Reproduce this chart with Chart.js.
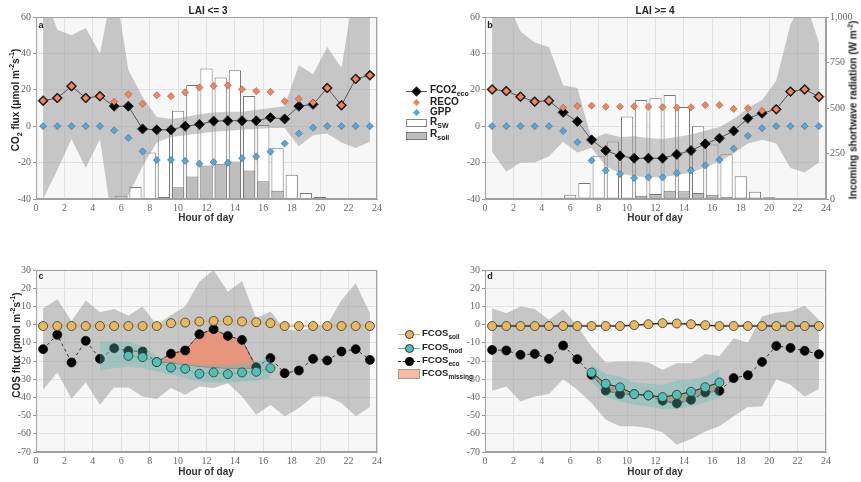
<!DOCTYPE html>
<html>
<head>
<meta charset="utf-8">
<script src="https://cdn.jsdelivr.net/npm/chart.js@4.4.1/dist/chart.umd.min.js"></script>
<style>
  body { margin: 0; background: #fff; font-family: "Liberation Sans", Arial, sans-serif; }
  #page { position: relative; width: 861px; height: 482px; overflow: hidden; }
  canvas { position: absolute; }
  .c { position: absolute; transform: translate(-50%, -50%); font-weight: bold; color: #222; white-space: nowrap; font-size: 10px; }
  .rot { transform: translate(-50%, -50%) rotate(-90deg); }
  .lt { position: absolute; transform: translateY(-50%); font-weight: bold; color: #222; white-space: nowrap; font-size: 10px; line-height: 10px; }
  .lc { font-size: 9.5px; }
  .lc sub { font-size: 6.5px; }
  sub, sup { font-size: 7px; line-height: 0; }
  .m { position: absolute; box-sizing: border-box; }
</style>
</head>
<body>
<div id="page">
  <canvas id="cA" width="390" height="230" style="left:0;top:0"></canvas>
  <canvas id="cB" width="412" height="230" style="left:449px;top:0"></canvas>
  <canvas id="cC" width="390" height="230" style="left:0;top:253px"></canvas>
  <canvas id="cD" width="412" height="230" style="left:449px;top:253px"></canvas>

  <div class="c" style="left:208px;top:10px">LAI &lt;= 3</div>
  <div class="c" style="left:655px;top:10px">LAI &gt;= 4</div>
  <div class="c" style="left:41px;top:25px;font-size:9px">a</div>
  <div class="c" style="left:490px;top:25px;font-size:9px">b</div>
  <div class="c" style="left:41px;top:276px;font-size:9px">c</div>
  <div class="c" style="left:490px;top:276px;font-size:9px">d</div>
  <div class="c" style="left:206px;top:217px;color:#333">Hour of day</div>
  <div class="c" style="left:655px;top:217px;color:#333">Hour of day</div>
  <div class="c" style="left:206px;top:471px;color:#333">Hour of day</div>
  <div class="c" style="left:655px;top:471px;color:#333">Hour of day</div>
  <div class="c rot" style="left:15px;top:100px">CO<sub>2</sub> flux (&mu;mol m<sup>-2</sup>s<sup>-1</sup>)</div>
  <div class="c rot" style="left:16px;top:345px">COS flux (pmol m<sup>-2</sup>s<sup>-1</sup>)</div>
  <div class="c rot" style="left:853px;top:110px">Incoming shortwave radiation (W m<sup>-2</sup>)</div>

  <div class="lt" style="left:430px;top:90px">FCO2<sub>eco</sub></div>
  <div class="lt" style="left:430px;top:102px">RECO</div>
  <div class="lt" style="left:430px;top:112px">GPP</div>
  <div class="lt" style="left:430px;top:122px">R<sub>SW</sub></div>
  <div class="lt" style="left:430px;top:134px">R<sub>soil</sub></div>

  <div class="lt lc" style="left:422px;top:333px">FCOS<sub>soil</sub></div>
  <div class="lt lc" style="left:422px;top:347px">FCOS<sub>mod</sub></div>
  <div class="lt lc" style="left:422px;top:360px">FCOS<sub>eco</sub></div>
  <div class="lt lc" style="left:422px;top:373px">FCOS<sub>missing</sub></div>
</div>
<script>
// hours of day (half-hour centred) and radiation bar hours
const hours = [0.5, 1.5, 2.5, 3.5, 4.5, 5.5, 6.5, 7.5, 8.5, 9.5, 10.5, 11.5, 12.5, 13.5, 14.5, 15.5, 16.5, 17.5, 18.5, 19.5, 20.5, 21.5, 22.5, 23.5];
const barHours = [4, 5, 6, 7, 8, 9, 10, 11, 12, 13, 14, 15, 16, 17, 18, 19, 20, 21];

// panel a — LAI <= 3
const fco2A = [14, 15.5, 22, 15.5, 16.5, 11, 11, -1.5, -2, -2, 0, 1, 2.8, 3, 3, 3, 4.7, 4, 11, 12, 21, 11.5, 26, 28];
const recoA = [14, 15.5, 22, 15.5, 16.5, 13.5, 17.5, 12.3, 17, 16.5, 18.6, 21.3, 22.2, 22.5, 20.3, 19.3, 18.9, 13.7, 15, 13, 21, 11.5, 26, 28];
const gppA = [0, 0, 0, 0, 0, -2.3, -6.4, -13.8, -18.6, -18.5, -19.1, -20.6, -19.7, -20.1, -17.6, -16.6, -14, -9.5, -4, -0.8, 0, 0, 0, 0];
const bandHiA = [75, 53, 50, 54, 40, 80, 31, 16, 5, 4, 5, 6.5, 7.5, 8, 8, 9, 10, 11, 33.5, 28.5, 43.5, 32, 80, 75];
const bandLoA = [-40, -24, -7, -23, -7, -60, -38, -22, -9, -6, -5, -4, -3, -2.5, -2, -1.5, -1, -1, -11, -5, -4, -9, -12, -8.5];
const rswA = [2, 0, 18, 66, 255, 383, 485, 626, 717, 668, 708, 566, 407, 279, 133, 33, 11, 2];
const rsoilA = [0, 0, 0, 0, 2, 11, 64, 124, 184, 193, 206, 157, 97, 46, 7, 2, 0, 0];

// panel b — LAI >= 4
const fco2B = [20.2, 19.3, 16.2, 13.5, 14, 7.6, 2.6, -7.5, -13.4, -16.3, -17.6, -17.6, -17.6, -15.5, -13.4, -9.7, -6.6, -2.6, 4.3, 7.1, 9.3, 19, 20.2, 16.2];
const recoB = [20.2, 19.3, 16.2, 13.5, 14, 10.2, 11.1, 11.3, 10.7, 10.7, 10.9, 10.7, 10.4, 10.2, 10.4, 11.6, 11.6, 9.5, 9.9, 8.4, 9.3, 19, 20.2, 16.2];
const gppB = [0, 0, 0, 0, 0, -2.6, -8.8, -18.8, -24.3, -26.3, -28.5, -28.1, -28.1, -25.8, -24.3, -21.6, -18.5, -12.3, -5.3, -1.1, 0, 0, 0, 0];
const bandHiB = [60, 70, 52, 46, 43.5, 22.5, 21, -7, -4, -6, -5.5, -6.5, -7, -6, -4.5, -2.5, -0.5, 4, 9.8, 14.4, 25, 56, 70, 46];
const bandLoB = [-14, -25, -20, -20, -16.5, -8.5, -14.5, -12, -22, -26, -27.5, -28, -28, -27, -25.5, -22.5, -19.5, -15, -9.5, -7.5, -9.5, -23, -25.5, -20];
const rswB = [2, 0, 24, 88, 237, 316, 453, 544, 553, 571, 505, 400, 300, 246, 125, 40, 10, 2];
const rsoilB = [0, 0, 0, 0, 0, 2, 5, 18, 27, 46, 42, 33, 24, 9, 0, 0, 0, 0];

// panel c — COS, LAI <= 3
const soilC = [-0.8, -0.8, -0.8, -0.8, -0.8, -0.8, -0.8, -0.8, -0.8, 0.8, 1.1, 1.7, 2, 2.2, 1.7, 1.3, 0.8, -0.8, -0.8, -0.8, -0.8, -0.8, -0.8, -0.8];
const ecoC = [-13.5, -5.6, -20.8, -8.9, -18.8, -13, -14.4, -14.8, -20.6, -16, -14.2, -5.3, -2.5, -6.2, -8.4, -23.4, -18.4, -26.7, -25.2, -18.8, -19.7, -14.8, -13.5, -19.4];
const bandHiC = [9, 13.9, 2, 13.2, 6.8, 8.6, 4.8, 9.9, -0.2, 5.3, 9.9, 23.6, 30, 18.1, 24, 3.5, 7.2, -2.4, -3.5, -1.4, 0, 13.5, 22.7, 6.2];
const bandLoC = [-35.8, -26.3, -40.7, -31.8, -44, -34.5, -34.5, -39.5, -40.9, -34.9, -38.6, -34, -34.9, -32.2, -39.5, -49.5, -44, -50.4, -45.9, -39.5, -39.5, -43.1, -50.4, -45.3];
const modHoursC = [6.5, 7.5, 8.5, 9.5, 10.5, 11.5, 12.5, 13.5, 14.5, 15.5, 16.5];
const modC = [-17.2, -17.9, -20.6, -23.6, -24.3, -27, -26.3, -27.2, -26.3, -25.9, -23.9];
const tealHoursC = [4.5, 5.5, 6.5, 7.5, 8.5, 9.5, 10.5, 11.5, 12.5, 13.5, 14.5, 15.5, 16.5];
const tealHiC = [-9.3, -9.3, -9.3, -12, -17.5, -20.3, -21.2, -22, -22, -22, -21.2, -20.3, -18.4];
const tealLoC = [-25.2, -24, -23, -24, -25.8, -27.6, -29.4, -31.2, -31.8, -31.8, -31.2, -30.9, -29.4];
const missHoursC = [8.5, 9.5, 10.5, 11.5, 12.5, 13.5, 14.5, 15.5];
const missLoC = [-20.6, -21, -22, -23, -23.5, -24, -24, -24];

// panel d — COS, LAI >= 4
const soilD = [-0.8, -0.8, -0.8, -0.8, -0.8, -0.8, -0.8, -0.8, -0.8, -0.8, -0.3, 0.2, 0.8, 0.6, 0.2, -0.3, -0.8, -0.8, -0.8, -0.8, -0.8, -0.8, -0.8, -0.8];
const ecoD = [-13.9, -14.2, -16.6, -16.1, -18.8, -11.5, -19, -27.6, -36.2, -38.2, -38.2, -38.9, -41.8, -43.3, -41.3, -37.3, -36.4, -29.4, -27.8, -20.5, -11.7, -12.8, -14.4, -16.3];
const bandHiD = [9, 6.2, 9.9, 8.6, 2.6, 8.4, -0.8, -12, -20.8, -20.3, -20.3, -20.8, -24.8, -21.2, -21.2, -16.1, -17.2, -7.5, -9.9, 4.4, 6.6, 7.2, 10.3, 2.6];
const bandLoD = [-36.4, -34, -42.2, -39.5, -38.2, -30, -35.8, -43.1, -52.3, -55.9, -55.9, -56.8, -59.2, -66, -62.9, -58.7, -55.9, -50.4, -45.3, -45, -30, -33, -39.5, -35.4];
const modHoursD = [7.5, 8.5, 9.5, 10.5, 11.5, 12.5, 13.5, 14.5, 15.5, 16.5];
const modD = [-26.3, -32.5, -34.5, -38.2, -38.9, -39.8, -38.6, -36.9, -34.4, -31.8];
const tealHiD = [-21.7, -27.2, -28.5, -31.8, -32.5, -33.1, -30.7, -30.3, -28.5, -24.5];
const tealLoD = [-31.2, -39.5, -42.2, -44, -45, -46.4, -46.4, -45, -42.8, -40];

const ORANGE = 'rgb(240,132,92)';
const BLUE = 'rgb(88,165,214)';
const YELLOW = 'rgb(230,184,98)';
const TEAL = 'rgb(82,190,180)';
const BAND = 'rgba(150,150,150,0.5)';
const tickFont = { family: "'Liberation Serif', 'DejaVu Serif', serif", size: 10 };

const pts = (xs, ys) => xs.map((x, i) => ({ x, y: ys[i] }));

const frame = {
  id: 'frame',
  beforeDraw(c) {
    const a = c.chartArea, ctx = c.ctx;
    ctx.save();
    ctx.fillStyle = '#f7f7f7';
    ctx.fillRect(a.left, a.top, a.right - a.left, a.bottom - a.top);
    ctx.restore();
  },
  afterDraw(c) {
    const a = c.chartArea, ctx = c.ctx;
    ctx.save();
    ctx.strokeStyle = '#a0a0a0';
    ctx.lineWidth = 1;
    ctx.strokeRect(a.left + 0.5, a.top + 0.5, a.right - a.left - 1, a.bottom - a.top - 1);
    ctx.restore();
  },
};

function options(yMin, yMax, yStep, showRight, padRight) {
  const scales = {
    x: {
      type: 'linear', min: 0, max: 24, offset: false,
      ticks: { stepSize: 2, font: tickFont, color: '#666', padding: 3, maxRotation: 0, autoSkip: false },
      grid: { color: '#e2e2e2', drawTicks: false, offset: false },
      border: { color: '#a0a0a0' },
      afterFit: (s) => { s.height = 16; },
    },
    y: {
      type: 'linear', min: yMin, max: yMax,
      ticks: { stepSize: yStep, font: tickFont, color: '#666', padding: 2 },
      grid: { color: '#e2e2e2', tickLength: 3, tickColor: '#999' },
      border: { color: '#a0a0a0' },
      afterFit: (s) => { s.width = 36; },
    },
  };
  if (showRight !== null) {
    scales.yR = {
      type: 'linear', position: 'right', min: 0, max: 1000, display: showRight,
      ticks: { stepSize: 250, font: tickFont, color: '#666', padding: 1 },
      grid: { drawOnChartArea: false, tickLength: 3, tickColor: '#999' },
      border: { color: '#a0a0a0' },
    };
    if (showRight) scales.yR.afterFit = (s) => { s.width = 35; };
  }
  return {
    responsive: false,
    animation: false,
    layout: { padding: { left: 0, right: padRight, top: 17, bottom: 15 } },
    plugins: { legend: { display: false }, tooltip: { enabled: false } },
    scales,
  };
}

function co2Chart(id, fco2, reco, gpp, hi, lo, rsw, rsoil, showRight, padRight) {
  return new Chart(document.getElementById(id), {
    type: 'line',
    data: {
      datasets: [
        { type: 'bar', data: pts(barHours, rsw), yAxisID: 'yR', backgroundColor: '#ffffff', borderColor: '#777', borderWidth: 1, borderSkipped: false, grouped: false, barPercentage: 0.86, categoryPercentage: 1, order: 10 },
        { type: 'bar', data: pts(barHours, rsoil), yAxisID: 'yR', backgroundColor: '#bdbdbd', borderColor: '#777', borderWidth: 1, borderSkipped: false, grouped: false, barPercentage: 0.86, categoryPercentage: 1, order: 9 },
        { data: pts(hours, hi), borderWidth: 0, pointRadius: 0, fill: '+1', backgroundColor: BAND, order: 8 },
        { data: pts(hours, lo), borderWidth: 0, pointRadius: 0, fill: false, order: 8 },
        { data: pts(hours, fco2), borderColor: '#555', borderWidth: 1, pointStyle: 'rectRot', pointRadius: 5, pointBackgroundColor: '#000', pointBorderColor: '#222', pointBorderWidth: 1, order: 3 },
        { data: pts(hours, reco), showLine: false, pointStyle: 'rectRot', pointRadius: 3.6, pointBackgroundColor: ORANGE, pointBorderColor: 'rgba(110,60,40,0.7)', pointBorderWidth: 0.6, order: 2 },
        { data: pts(hours, gpp), showLine: false, pointStyle: 'rectRot', pointRadius: 3.6, pointBackgroundColor: BLUE, pointBorderColor: 'rgba(40,80,120,0.7)', pointBorderWidth: 0.6, order: 1 },
      ],
    },
    options: options(-40, 60, 20, showRight, padRight),
    plugins: [frame],
  });
}

function cosChart(id, s, padRight) {
  return new Chart(document.getElementById(id), {
    type: 'line',
    data: {
      datasets: [
        { data: pts(hours, s.hi), borderWidth: 0, pointRadius: 0, fill: '+1', backgroundColor: BAND, order: 20 },
        { data: pts(hours, s.lo), borderWidth: 0, pointRadius: 0, fill: false, order: 20 },
        { data: pts(s.missHours, s.missHi), borderColor: '#555', borderWidth: 0.8, pointRadius: 0, fill: '+1', backgroundColor: s.missColor, order: 15 },
        { data: pts(s.missHours, s.missLo), borderColor: '#555', borderWidth: 0.8, pointRadius: 0, fill: false, order: 15 },
        { data: pts(hours, s.eco), borderColor: '#333', borderWidth: 1, borderDash: [3, 3], pointRadius: 4.5, pointBackgroundColor: '#000', pointBorderColor: '#111', pointBorderWidth: 0.8, order: 10 },
        { data: pts(s.tealHours, s.tealHi), borderWidth: 0, pointRadius: 0, fill: '+1', backgroundColor: 'rgba(90,190,180,0.35)', order: 8 },
        { data: pts(s.tealHours, s.tealLo), borderWidth: 0, pointRadius: 0, fill: false, order: 8 },
        { data: pts(hours, s.soil), borderColor: s.soilLine, borderWidth: 1.5, pointRadius: 4.5, pointBackgroundColor: YELLOW, pointBorderColor: '#333', pointBorderWidth: 0.8, order: 5 },
        { data: pts(s.modHours, s.mod), borderColor: s.modLine, borderWidth: 1, pointRadius: 4.5, pointBackgroundColor: TEAL, pointBorderColor: '#333', pointBorderWidth: 0.8, order: 3 },
      ],
    },
    options: options(-70, 30, 10, null, padRight),
    plugins: [frame],
  });
}

co2Chart('cA', fco2A, recoA, gppA, bandHiA, bandLoA, rswA, rsoilA, false, 13);
co2Chart('cB', fco2B, recoB, gppB, bandHiB, bandLoB, rswB, rsoilB, true, 0);
cosChart('cC', {
  soil: soilC, eco: ecoC, hi: bandHiC, lo: bandLoC, modHours: modHoursC, mod: modC,
  tealHours: tealHoursC, tealHi: tealHiC, tealLo: tealLoC,
  missHours: missHoursC, missHi: ecoC.slice(8, 16), missLo: missLoC,
  missColor: 'rgba(236,140,110,0.85)', soilLine: YELLOW, modLine: TEAL,
}, 13);
cosChart('cD', {
  soil: soilD, eco: ecoD, hi: bandHiD, lo: bandLoD, modHours: modHoursD, mod: modD,
  tealHours: modHoursD, tealHi: tealHiD, tealLo: tealLoD,
  missHours: modHoursD, missHi: modD, missLo: ecoD.slice(7, 17),
  missColor: 'rgba(196,136,106,0.85)', soilLine: '#333', modLine: '#333',
}, 35);

// legend markers
const page = document.getElementById('page');
function mark(x, y, w, h, css) {
  const d = document.createElement('div');
  d.className = 'm';
  d.style.cssText = `left:${x - w / 2}px;top:${y - h / 2}px;width:${w}px;height:${h}px;` + css;
  page.appendChild(d);
}
function line(x1, x2, y, css) {
  const d = document.createElement('div');
  d.className = 'm';
  d.style.cssText = `left:${x1}px;top:${y}px;width:${x2 - x1}px;height:0;` + css;
  page.appendChild(d);
}
line(406, 427, 91, 'border-top:1px solid #555');
mark(416.5, 91.5, 7, 7, 'background:#000;border:1px solid #222;transform:rotate(45deg)');
mark(416.5, 102, 5, 5, `background:${ORANGE};transform:rotate(45deg)`);
mark(416.5, 112, 5, 5, `background:${BLUE};transform:rotate(45deg)`);
mark(416.5, 123, 21, 8, 'background:#fff;border:1px solid #888');
mark(416.5, 136, 21, 8, 'background:#bdbdbd;border:1px solid #777');

line(398, 420, 334, `border-top:1px solid ${YELLOW}`);
mark(409, 334.5, 9, 9, `background:${YELLOW};border:0.8px solid #333;border-radius:50%`);
line(398, 420, 348, `border-top:1px solid ${TEAL}`);
mark(409, 348.5, 9, 9, `background:${TEAL};border:0.8px solid #333;border-radius:50%`);
line(398, 420, 361, 'border-top:1px dashed #222');
mark(409, 361.5, 9, 9, 'background:#000;border-radius:50%');
mark(409, 374, 22, 10, 'background:rgb(250,186,162);border:1px solid #999');
</script>
</body>
</html>
